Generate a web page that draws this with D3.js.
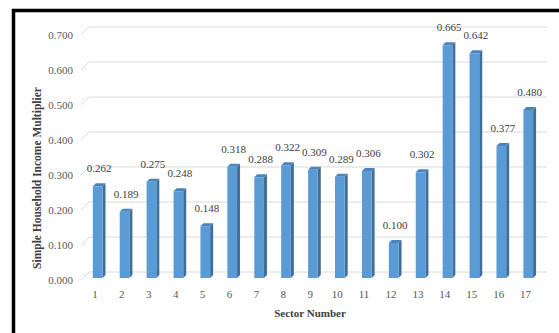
<!DOCTYPE html>
<html>
<head>
<meta charset="utf-8">
<script src="https://cdn.jsdelivr.net/npm/d3@7"></script>
<style>
  body { margin: 0; background: #fff; }
  text { font-family: "Liberation Serif", "Times New Roman", serif; }
</style>
</head>
<body>
<div id="chart"></div>
<script>
let width = 559;
let height = 333;

// sector numbers and their multipliers
let sectors = ["1","2","3","4","5","6","7","8","9","10","11","12","13","14","15","16","17"];
let multipliers = [0.262,0.189,0.275,0.248,0.148,0.318,0.288,0.322,0.309,0.289,0.306,0.100,0.302,0.665,0.642,0.377,0.480];
let yTicks = [0,0.1,0.2,0.3,0.4,0.5,0.6,0.7];

function barChart() {
    let dataset = sectors.map((s,i)=>({sector:s, value:multipliers[i]}));

    let xScale = d3.scaleBand()
        .domain(sectors)
        .range([81.5,539]);

    let yScale = d3.scaleLinear()
        .domain([0,0.7])
        .range([278,33]);

    let svg = d3.select("#chart")
        .append("svg")
        .attr("width", width)
        .attr("height", height);

    // back wall gridlines + the little floor diagonals
    let grid = svg.append("g");
    grid.selectAll("line.grid")
        .data(yTicks)
        .enter().append("line")
        .attr("x1", 89).attr("x2", 547)
        .attr("y1", d=>yScale(d)-6).attr("y2", d=>yScale(d)-6)
        .attr("stroke", "#d9d9d9").attr("stroke-width", 1);
    grid.selectAll("line.diag")
        .data(yTicks)
        .enter().append("line")
        .attr("x1", 81).attr("x2", 89)
        .attr("y1", d=>yScale(d)+2).attr("y2", d=>yScale(d)-6)
        .attr("stroke", "#d9d9d9").attr("stroke-width", 1);

    // y tick labels
    svg.append("g").selectAll("text")
        .data(yTicks)
        .enter().append("text")
        .attr("x", 73)
        .attr("y", d=>yScale(d)+6)
        .attr("text-anchor", "end")
        .attr("font-size", 11)
        .attr("fill", "#595959")
        .text(d=>d3.format(".3f")(d));

    // x tick labels
    svg.append("g").selectAll("text")
        .data(sectors)
        .enter().append("text")
        .attr("x", d=>xScale(d)+xScale.bandwidth()/2)
        .attr("y", 298)
        .attr("text-anchor", "middle")
        .attr("font-size", 11)
        .attr("fill", "#595959")
        .text(d=>d);

    // pseudo-3d bars
    let bw = xScale.bandwidth()*0.36;
    let dx = 3, dy = 3;
    let bx = d=>xScale(d.sector)+xScale.bandwidth()*0.42;
    let bars = svg.append("g").selectAll("g")
        .data(dataset)
        .enter().append("g");

    bars.append("path")
        .attr("fill", "#3f6e9a")
        .attr("d", d=>{
            let x = bx(d)+bw, y0 = yScale(0), y1 = yScale(d.value);
            return `M${x},${y1}L${x+dx},${y1-dy}L${x+dx},${y0-dy}L${x},${y0}Z`;
        });
    bars.append("path")
        .attr("fill", "#4a83bd")
        .attr("d", d=>{
            let x = bx(d), y1 = yScale(d.value);
            return `M${x},${y1}L${x+dx},${y1-dy}L${x+bw+dx},${y1-dy}L${x+bw},${y1}Z`;
        });
    bars.append("rect")
        .attr("x", d=>bx(d))
        .attr("y", d=>yScale(d.value))
        .attr("width", bw)
        .attr("height", d=>yScale(0)-yScale(d.value))
        .attr("fill", "#5b9bd5");

    // value labels
    svg.append("g").selectAll("text")
        .data(dataset)
        .enter().append("text")
        .attr("x", d=>bx(d)+(bw+dx)/2)
        .attr("y", d=>yScale(d.value)-14)
        .attr("text-anchor", "middle")
        .attr("font-size", 11)
        .attr("fill", "#404040")
        .text(d=>d3.format(".3f")(d.value));

    // axis titles
    svg.append("text")
        .attr("x", 310).attr("y", 317)
        .attr("text-anchor", "middle")
        .attr("font-size", 11)
        .attr("font-weight", "bold")
        .attr("fill", "#404040")
        .text("Sector Number");
    svg.append("text")
        .attr("transform", "translate(41,178) rotate(-90)")
        .attr("text-anchor", "middle")
        .attr("font-size", 11.5)
        .attr("font-weight", "bold")
        .attr("fill", "#404040")
        .text("Simple Household Income Multiplier");

    // frame: only top and left edges are visible
    svg.append("path")
        .attr("d", "M13.5,333V10.5H559")
        .attr("fill", "none")
        .attr("stroke", "#000")
        .attr("stroke-width", 3.5);
}

barChart();
</script>
</body>
</html>
